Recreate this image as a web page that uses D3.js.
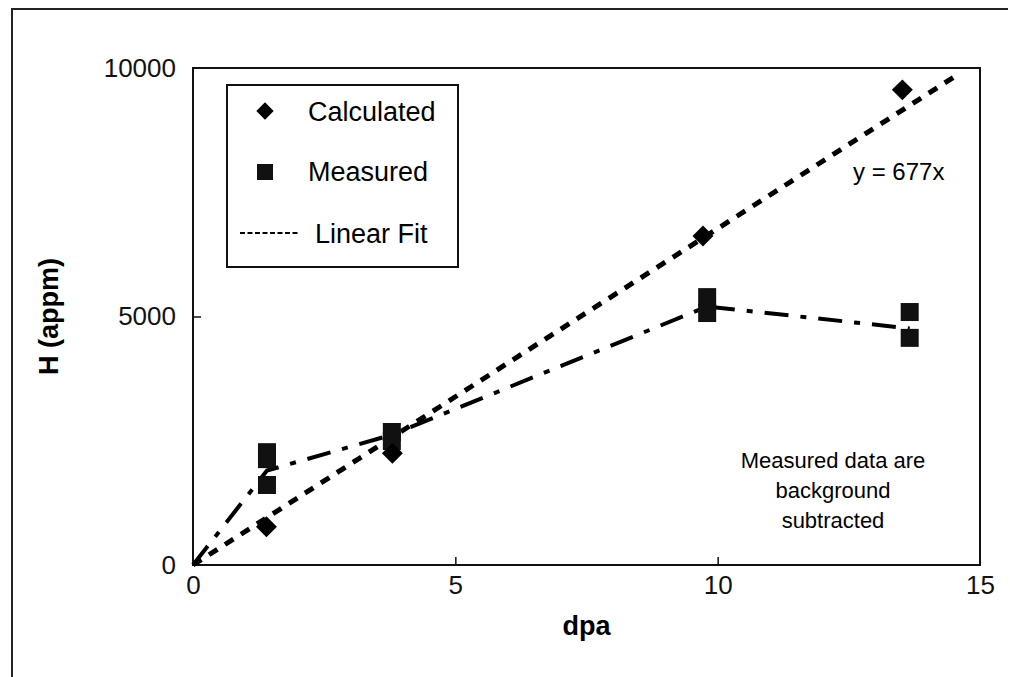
<!DOCTYPE html>
<html>
<head>
<meta charset="utf-8">
<script src="https://cdn.jsdelivr.net/npm/d3@7"></script>
<style>
  body { margin: 0; background: #fff; }
  svg { font-family: "Liberation Sans", Arial, sans-serif; }
  .tick text { font-size: 26px; fill: #111; }
  .tick line { stroke: #111; stroke-width: 1.5; }
</style>
</head>
<body>
<div id="chart"></div>
<script>
// values
const xTicks = [0, 5, 10, 15];
const yTicks = [0, 5000, 10000];

const calcX = [1.4, 3.8, 9.72, 13.52];
const calcY = [770, 2250, 6620, 9560];

const measX = [1.41, 1.41, 1.41, 3.79, 3.79, 9.8, 9.8, 13.66, 13.66];
const measY = [2270, 2130, 1610, 2676, 2495, 5390, 5070, 5090, 4570];

// dash-dot line through the measured points
const measLineX = [0, 1.41, 3.79, 9.8, 13.66];
const measLineY = [0, 1900, 2620, 5200, 4760];

const fitSlope = 677;
const fitRange = [0, 14.6];

let margin = {top: 68, right: 30, bottom: 112, left: 193};
let width = 1010 - margin.left - margin.right;
let height = 677 - margin.top - margin.bottom;

let xScale = d3.scaleLinear().domain([0, 15]).range([0, width]);
let yScale = d3.scaleLinear().domain([0, 10000]).range([height, 0]);

let root = d3.select("#chart").append("svg")
    .attr("width", 1010)
    .attr("height", 677);

// scanned page frame (top and left only)
root.append("path")
    .attr("d", "M12,680 L12,9 L1008,9")
    .attr("fill", "none")
    .attr("stroke", "#222")
    .attr("stroke-width", 2);

let svg = root.append("g")
    .attr("transform", "translate(" + margin.left + "," + margin.top + ")");

// plot frame
svg.append("rect")
    .attr("width", width)
    .attr("height", height)
    .attr("fill", "none")
    .attr("stroke", "#111")
    .attr("stroke-width", 2);

let xAxis = svg.append("g")
    .attr("transform", "translate(0," + height + ")")
    .call(d3.axisBottom(xScale).tickValues(xTicks).tickFormat(d3.format("d"))
        .tickSizeInner(-8).tickSizeOuter(0).tickPadding(11));
xAxis.select(".domain").remove();
xAxis.selectAll(".tick line").filter((d) => d === 0 || d === 15).remove();

let yAxis = svg.append("g")
    .call(d3.axisLeft(yScale).tickValues(yTicks).tickFormat(d3.format("d"))
        .tickSizeInner(-8).tickSizeOuter(0).tickPadding(17));
yAxis.select(".domain").remove();
yAxis.selectAll(".tick line").filter((d) => d === 0 || d === 10000).remove();

// axis titles
svg.append("text")
    .attr("x", width / 2)
    .attr("y", height + 70)
    .attr("text-anchor", "middle")
    .attr("font-size", 27)
    .attr("font-weight", "bold")
    .text("dpa");

svg.append("text")
    .attr("transform", "translate(-135," + (height / 2) + ") rotate(-90)")
    .attr("text-anchor", "middle")
    .attr("font-size", 27)
    .attr("font-weight", "bold")
    .text("H (appm)");

let line = d3.line()
    .x((d) => xScale(d.x))
    .y((d) => yScale(d.y));

// linear fit y = 677x
let fitData = fitRange.map((x) => ({x: x, y: fitSlope * x}));
svg.append("path")
    .datum(fitData)
    .attr("fill", "none")
    .attr("stroke", "#000")
    .attr("stroke-width", 5)
    .attr("stroke-dasharray", "10,9")
    .attr("d", line);

// measured dash-dot line
let measLine = measLineX.map((x, i) => ({x: x, y: measLineY[i]}));
svg.append("path")
    .datum(measLine)
    .attr("fill", "none")
    .attr("stroke", "#000")
    .attr("stroke-width", 4)
    .attr("stroke-dasharray", "24,12,6,12")
    .attr("d", line);

// measured squares
let sq = 18;
svg.selectAll(".meas")
    .data(measX.map((x, i) => ({x: x, y: measY[i]})))
    .enter().append("rect")
    .attr("class", "meas")
    .attr("x", (d) => xScale(d.x) - sq / 2)
    .attr("y", (d) => yScale(d.y) - sq / 2)
    .attr("width", sq)
    .attr("height", sq)
    .attr("fill", "#111");

// calculated diamonds
let diamond = d3.symbol().type(d3.symbolSquare).size(220);
svg.selectAll(".calc")
    .data(calcX.map((x, i) => ({x: x, y: calcY[i]})))
    .enter().append("path")
    .attr("class", "calc")
    .attr("transform", (d) => "translate(" + xScale(d.x) + "," + yScale(d.y) + ") rotate(45)")
    .attr("d", diamond)
    .attr("fill", "#000");

// legend
let leg = root.append("g");
leg.append("rect")
    .attr("x", 227).attr("y", 85)
    .attr("width", 231).attr("height", 182)
    .attr("fill", "#fff")
    .attr("stroke", "#111")
    .attr("stroke-width", 2);
leg.append("path")
    .attr("transform", "translate(265,111) rotate(45)")
    .attr("d", d3.symbol().type(d3.symbolSquare).size(150))
    .attr("fill", "#000");
leg.append("rect")
    .attr("x", 257).attr("y", 164)
    .attr("width", 16).attr("height", 16)
    .attr("fill", "#111");
leg.append("line")
    .attr("x1", 240).attr("x2", 300)
    .attr("y1", 233).attr("y2", 233)
    .attr("stroke", "#000")
    .attr("stroke-width", 2)
    .attr("stroke-dasharray", "5,2.5");
let legText = [["Calculated", 308, 121], ["Measured", 308, 181], ["Linear Fit", 315, 243]];
legText.forEach((t) => {
    leg.append("text")
        .attr("x", t[1]).attr("y", t[2])
        .attr("font-size", 27)
        .text(t[0]);
});

// annotations
root.append("text")
    .attr("x", 853).attr("y", 180)
    .attr("font-size", 24)
    .text("y = 677x");

let note = ["Measured data are", "background", "subtracted"];
root.append("text")
    .attr("font-size", 22)
    .attr("text-anchor", "middle")
    .selectAll("tspan")
    .data(note)
    .enter().append("tspan")
    .attr("x", 833)
    .attr("y", (d, i) => 468 + i * 30)
    .text((d) => d);
</script>
</body>
</html>
